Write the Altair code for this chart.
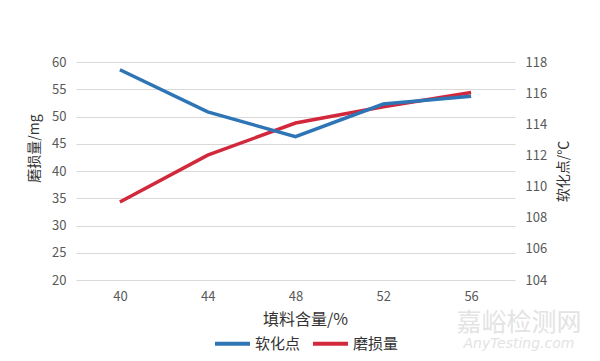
import altair as alt
import pandas as pd

fill = [40, 44, 48, 52, 56]
softening = [117.5, 114.8, 113.2, 115.3, 115.8]
wear = [34.3, 42.9, 48.8, 51.8, 54.4]

s_name = "软化点"
w_name = "磨损量"

wm_text = ["嘉峪检测网", "AnyTesting.com"]

df_s = pd.DataFrame({"x": fill, "v": softening, "series": s_name})
df_w = pd.DataFrame({"x": fill, "v": wear, "series": w_name})

FONT = "Noto Sans CJK SC"
LBL = "#595959"

color = alt.Color(
    "series:N",
    scale=alt.Scale(domain=[s_name, w_name], range=["#2E75B6", "#D2283C"]),
    legend=alt.Legend(
        title=None, orient="none", direction="horizontal",
        legendX=137, legendY=262, symbolType="stroke", symbolSize=1225,
        symbolStrokeWidth=4, labelFontSize=15, labelColor="#333333",
        labelFont=FONT, columnPadding=4, labelOffset=3,
    ),
)

xenc = alt.X(
    "x:O",
    scale=alt.Scale(type="point", padding=0.5),
    axis=alt.Axis(
        title="填料含量/%", labelAngle=0, domain=False, ticks=False,
        labelPadding=10, labelFontSize=13, labelColor=LBL, labelFont=FONT,
        titleFontSize=16, titleColor="#333333", titleFont=FONT,
        titleFontWeight="normal", titlePadding=8, grid=False, titleX=229,
    ),
)

wear_line = alt.Chart(df_w).mark_line(strokeWidth=3.5).encode(
    x=xenc,
    y=alt.Y(
        "v:Q",
        scale=alt.Scale(domain=[20, 60], nice=False, zero=False),
        axis=alt.Axis(
            title="磨损量/mg", orient="left", values=list(range(20, 61, 5)),
            domain=False, ticks=False, grid=True, gridColor="#d9d9d9",
            labelPadding=10, labelFontSize=13, labelColor=LBL, labelFont=FONT,
            titleFontSize=14, titleColor="#333333", titleFont=FONT,
            titleFontWeight="normal", titlePadding=10, titleY=86,
        ),
    ),
    color=color,
)

soft_line = alt.Chart(df_s).mark_line(strokeWidth=3.5).encode(
    x=xenc,
    y=alt.Y(
        "v:Q",
        scale=alt.Scale(domain=[104, 118], nice=False, zero=False),
        axis=alt.Axis(
            title="软化点/℃", orient="right", values=list(range(104, 119, 2)),
            domain=False, ticks=False, grid=False,
            labelPadding=10, labelFontSize=13, labelColor=LBL, labelFont=FONT,
            titleFontSize=14, titleColor="#333333", titleFont=FONT,
            titleFontWeight="normal", titleAngle=270, titleX=48, titleY=109,
            titleAlign="center", titleBaseline="middle",
        ),
    ),
    color=color,
)

wm1 = alt.Chart(pd.DataFrame({"t": [wm_text[0]]})).mark_text(
    font=FONT, fontSize=25, color="#e3e3e3", align="center", baseline="middle"
).encode(text="t:N", x=alt.value(443), y=alt.value(261))

wm2 = alt.Chart(pd.DataFrame({"t": [wm_text[1]]})).mark_text(
    font="DejaVu Sans", fontSize=14, fontStyle="italic", color="#e3e3e3",
    align="center", baseline="middle"
).encode(text="t:N", x=alt.value(443), y=alt.value(282))

chart = (
    alt.layer(wear_line, soft_line, wm1, wm2)
    .resolve_scale(y="independent")
    .properties(
        width=439, height=218,
        autosize=alt.AutoSizeParams(type="none"),
        padding={"left": 68, "top": 54, "right": 77, "bottom": 73},
    )
    .configure_view(stroke=None)
)

chart.save("out.html", embed_options={"renderer": "svg", "actions": False})
